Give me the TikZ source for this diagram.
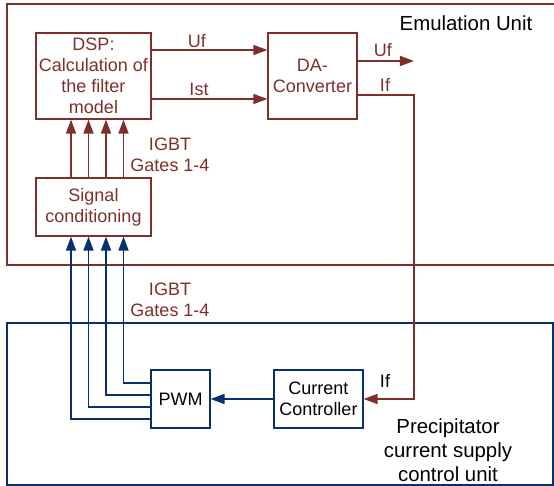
\documentclass[tikz,border=0pt]{standalone}
\usepackage{fontspec}
\setmainfont{Liberation Sans}
\usetikzlibrary{arrows.meta}
\definecolor{marron}{RGB}{127,47,42}
\definecolor{azul}{RGB}{6,48,110}
\begin{document}
\begin{tikzpicture}[x=0.5pt,y=-0.5pt,
    font=\fontsize{9}{10.5}\selectfont,
    cajam/.style={draw=marron,line width=0.6pt,text=marron,align=center,inner sep=0pt},
    cajaa/.style={draw=azul,line width=0.6pt,align=center,inner sep=0pt},
    flm/.style={draw=marron,line width=0.8pt,-{Triangle[length=7pt,width=5pt]}},
    fla/.style={draw=azul,line width=0.8pt,-{Triangle[length=7pt,width=5pt]}},
    etm/.style={text=marron,align=center,inner sep=0pt},
    titulo/.style={align=center,inner sep=0pt,font=\fontsize{10.2}{12}\selectfont}]
    \useasboundingbox (0,0) rectangle (554,486);

    % unidad de emulacion
    \draw[marron,line width=0.6pt] (554,4) -| (7,265) -- (554,265);
    \node[titulo] (emu) at (466,23) {Emulation Unit};

    % unidad de control
    \draw[azul,line width=0.6pt] (7,323) rectangle (553,485);
    \node[titulo] (prec) at (448,450)
        {Precipitator\\current supply\\control unit};

    % bloques
    \node[cajam,minimum width=57.5pt,minimum height=43pt] (dsp) at (93.5,76)
        {DSP:\\Calculation of\\the filter\\model};
    \node[cajam,minimum width=44.5pt,minimum height=43pt] (da) at (312.5,76)
        {DA-\\Converter};
    \node[cajam,minimum width=57.5pt,minimum height=29pt] (sig) at (93.5,207)
        {Signal\\conditioning};
    \node[cajaa,minimum width=29.5pt,minimum height=29pt] (pwm) at (180.5,399) {PWM};
    \node[cajaa,minimum width=44.5pt,minimum height=29pt] (cc) at (318.5,399)
        {Current\\Controller};

    % senales Uf, Ist
    \draw[flm] ([yshift=13pt]dsp.east) -- ([yshift=13pt]da.west);
    \draw[flm] ([yshift=-11.5pt]dsp.east) -- ([yshift=-11.5pt]da.west);
    \node[etm] (uf1) at (197,41) {Uf};
    \node[etm] (ist) at (199,89) {Ist};

    % salidas del convertidor
    \coordinate (ufout) at (414,61);
    \coordinate (ifx) at (414,399);
    \draw[flm] ([yshift=7.5pt]da.east) -- (ufout);
    \draw[flm] ([yshift=-9.5pt]da.east) -| (ifx) -- (cc.east);
    \node[etm] (uf2) at (383,50) {Uf};
    \node[etm] (if1) at (385,85) {If};
    \node[inner sep=0pt] (if2) at (385,381) {If};

    % compuertas IGBT
    \foreach \dx in {-11.25,-2.5,6.25,15}
        \draw[flm] ([xshift=\dx pt]sig.north) -- ([xshift=\dx pt]dsp.south);
    \foreach \dx/\dy in {-11.25/-10,-2.5/-4,6.25/2,15/8}
        \draw[fla] ([yshift=\dy pt]pwm.west) -| ([xshift=\dx pt]sig.south);
    \node[etm] (gt1) at (170,155) {IGBT\\Gates 1-4};
    \node[etm] (gt2) at (170,300) {IGBT\\Gates 1-4};

    % controlador -> PWM
    \draw[fla] (cc.west) -- (pwm.east);
\end{tikzpicture}
\end{document}
